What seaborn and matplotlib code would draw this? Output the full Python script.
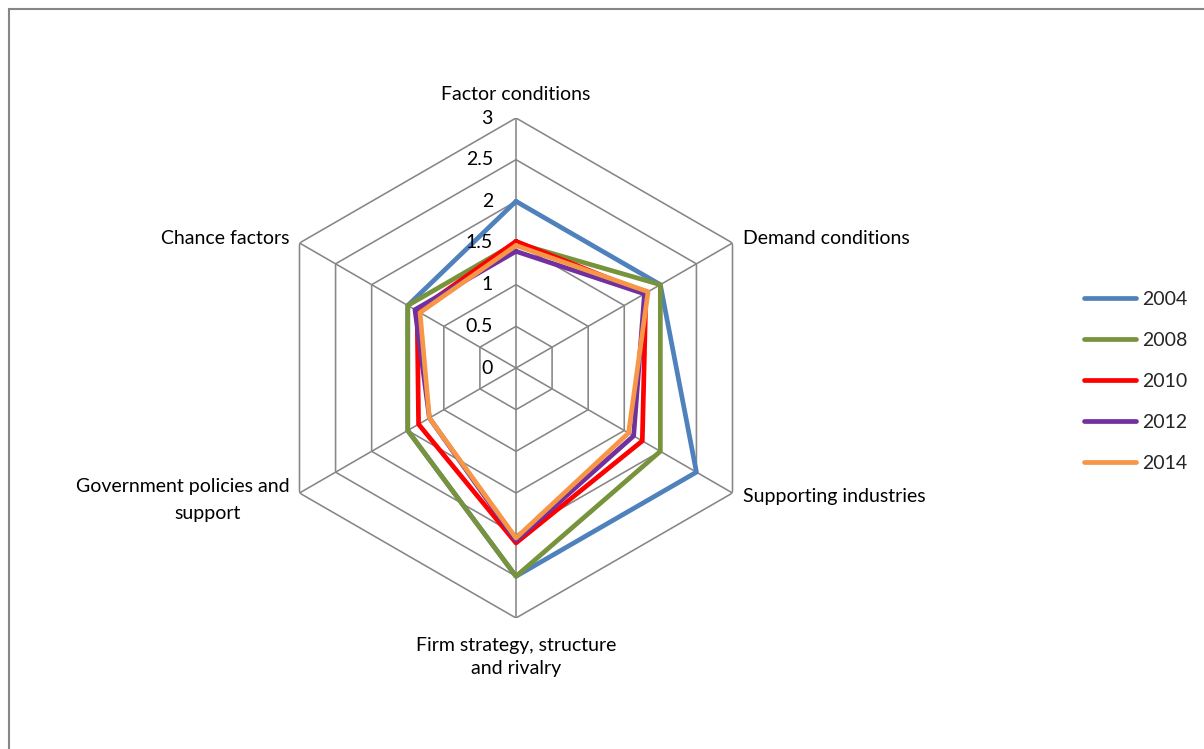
import numpy as np
import pandas as pd
import matplotlib
matplotlib.use("Agg")
import matplotlib.pyplot as plt
from matplotlib.lines import Line2D
from matplotlib.patches import Rectangle
import seaborn as sns

categories = ["Factor conditions", "Demand conditions", "Supporting industries",
              "Firm strategy, structure\nand rivalry", "Government policies and\nsupport",
              "Chance factors"]
years = ["2004", "2008", "2010", "2012", "2014"]
v2004 = [2.0, 2.0, 2.5, 2.5, 1.5, 1.5]
v2008 = [1.5, 2.0, 2.0, 2.5, 1.5, 1.5]
v2010 = [1.52, 1.80, 1.75, 2.10, 1.35, 1.37]
v2012 = [1.40, 1.78, 1.63, 2.07, 1.20, 1.40]
v2014 = [1.47, 1.83, 1.56, 2.04, 1.20, 1.33]
series = [v2004, v2008, v2010, v2012, v2014]
colors = ["#4F81BD", "#77933C", "#FF0000", "#7030A0", "#F79646"]
rticks = [0, 0.5, 1, 1.5, 2, 2.5, 3]
rtick_labels = ["0", "0.5", "1", "1.5", "2", "2.5", "3"]

sns.set_theme(style="white")
plt.rcParams["font.family"] = ["Lato", "DejaVu Sans"]
FS = 14
LW = 3.4

n = len(categories)
theta = np.linspace(0, 2 * np.pi, n + 1)

rows = []
for y, vals in zip(years, series):
    for i, t in enumerate(theta):
        rows.append({"year": y, "theta": t, "value": vals[i % n], "order": i})
df = pd.DataFrame(rows)

fig = plt.figure(figsize=(12.04, 7.49), dpi=100)
ax = fig.add_axes([266 / 1204, 1 - 618 / 749, 500 / 1204, 500 / 749], projection="polar")
ax.set_theta_zero_location("N")
ax.set_theta_direction(-1)
ax.set_ylim(0, 3)
ax.grid(False)
ax.spines["polar"].set_visible(False)
ax.patch.set_alpha(0)

grid_c = "#868686"
for r in rticks[1:]:
    ax.plot(theta, [r] * (n + 1), color=grid_c, lw=1.15, zorder=1)
for t in theta[:-1]:
    ax.plot([t, t], [0, 3], color=grid_c, lw=1.15, zorder=1)

sns.lineplot(data=df, x="theta", y="value", hue="year", palette=colors,
             sort=False, estimator=None, units="year", linewidth=LW,
             ax=ax, legend=False, zorder=3)
ax.set_xlabel("")
ax.set_ylabel("")
ax.set_xticks([])
ax.set_yticks([])
ax.set_ylim(0, 3)

for r, lab in zip(rticks, rtick_labels):
    ax.annotate(lab, xy=(0, r), xytext=(-23, 0), textcoords="offset pixels",
                ha="right", va="center", fontsize=FS, color="#000000")

# axis category labels
offsets = {0: (0, 24, "center"), 1: (10, 5, "left"), 2: (10, -4, "left"),
           3: (0, -39, "center"), 5: (-10, 5, "right")}
for i, (dx, dy, ha) in offsets.items():
    ax.annotate(categories[i], xy=(theta[i], 3), xytext=(dx, dy), textcoords="offset pixels",
                ha=ha, va="center", fontsize=FS, color="#000000",
                multialignment="center", linespacing=1.38)
gov1, gov2 = categories[4].split("\n")
ax.annotate(gov1, xy=(theta[4], 3), xytext=(-10, 7), textcoords="offset pixels",
            ha="right", va="center", fontsize=FS, color="#000000")
ax.annotate(gov2, xy=(theta[4], 3), xytext=(-92, -20), textcoords="offset pixels",
            ha="center", va="center", fontsize=FS, color="#000000")

handles = [Line2D([0], [0], color=c, lw=LW, solid_capstyle="round") for c in colors]
fig.legend(handles, years, loc="center left", bbox_to_anchor=(1084 / 1204, 1 - 381.5 / 749),
           frameon=False, fontsize=FS, handlelength=2.65, handletextpad=0.36,
           labelspacing=1.24, borderpad=0, borderaxespad=0)

fig.patches.append(Rectangle((8.5 / 1204, -0.5), 2.0, 0.5 + 1 - 9 / 749,
                             transform=fig.transFigure, fill=False,
                             edgecolor="#868686", linewidth=1.5))

fig.savefig("out.png", dpi=100)
